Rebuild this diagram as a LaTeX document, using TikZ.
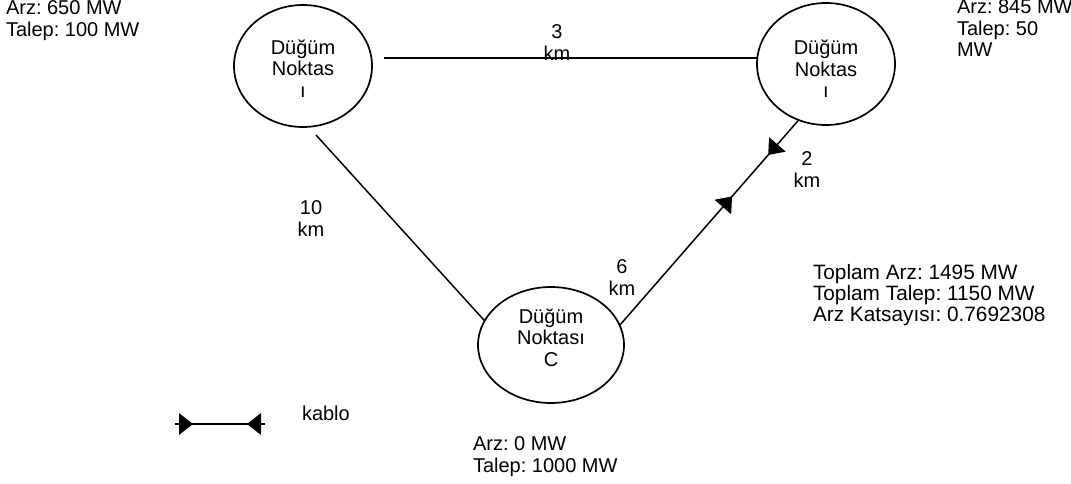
\documentclass[tikz,border=0pt]{standalone}
\usepackage{fontspec}
\setmainfont{Liberation Sans}
\usetikzlibrary{shapes.geometric,decorations.markings}
\frenchspacing
\begin{document}
\begin{tikzpicture}[x=1pt,y=-1pt,
  every node/.style={font=\fontsize{20}{21.5}\selectfont, inner sep=0pt, outer sep=0pt},
  nodeell/.style={draw, ellipse, line width=1.7pt, minimum width=138pt, minimum height=122pt},
  nodetxt/.style={anchor=north, align=center},
  lbl/.style={anchor=north, align=center},
  info/.style={anchor=north west, align=left},
  conn/.style={line width=1.5pt},
  cablemarks/.style 2 args={postaction={decorate}, decoration={markings,
    mark=at position #1 with {\fill (0,-11) -- (14,0) -- (0,11) -- cycle;},
    mark=at position #2 with {\fill (0,-11) -- (-14,0) -- (0,11) -- cycle;}}}
]
\fill[white] (0,0) rectangle (1071,484);
\useasboundingbox (0,0) rectangle (1071,484);

% nodes
\node[nodeell] (A) at (303,66) {};
\node[nodeell] (B) at (826,64) {};
\node[nodeell, minimum width=146pt, minimum height=116pt] (C) at (551,345) {};
\node[nodetxt] (At) at ([shift={(0,-26.5)}]A.center) {Düğüm\\Noktas\\ı};
\node[nodetxt] (Bt) at ([shift={(0,-24)}]B.center) {Düğüm\\Noktas\\ı};
\node[nodetxt] (Ct) at ([shift={(0,-36.5)}]C.center) {Düğüm\\Noktası\\C};

% connectors
\draw[conn] ([shift={(12,-8)}]A.east) -- ([shift={(0,-6)}]B.west);
\draw[conn] ([shift={(13,8)}]A.south) -- (C.160);
\draw[conn, cablemarks={157pt}{240pt}] (C.16) -- (B.244);

% distance labels
\node[lbl] (l3) at (557,25) {3\\km};
\node[lbl] (l10) at (311,201) {10\\km};
\node[lbl] (l2) at (807,152) {2\\km};
\node[lbl] (l6) at (622,260) {6\\km};

% info texts
\node[info] (ia) at (6,1) {Arz: 650 MW\\Talep: 100 MW};
\node[info] (ib) at (957,0) {Arz: 845 MW\\Talep: 50\\MW};
\node[info] (ic) at (473,437) {Arz: 0 MW\\Talep: 1000 MW};
\node[info, font=\fontsize{20.8}{21.3}\selectfont] (tot) at (813,264) {Toplam Arz: 1495 MW\\Toplam Talep: 1150 MW\\Arz Katsayısı: 0.7692308};

% legend
\coordinate (k1) at (175,424);
\coordinate (k2) at (265,424);
\draw[conn, cablemarks={4pt}{86pt}] (k1) -- (k2);
\node[info] (kab) at (302,406) {kablo};
\end{tikzpicture}
\end{document}
